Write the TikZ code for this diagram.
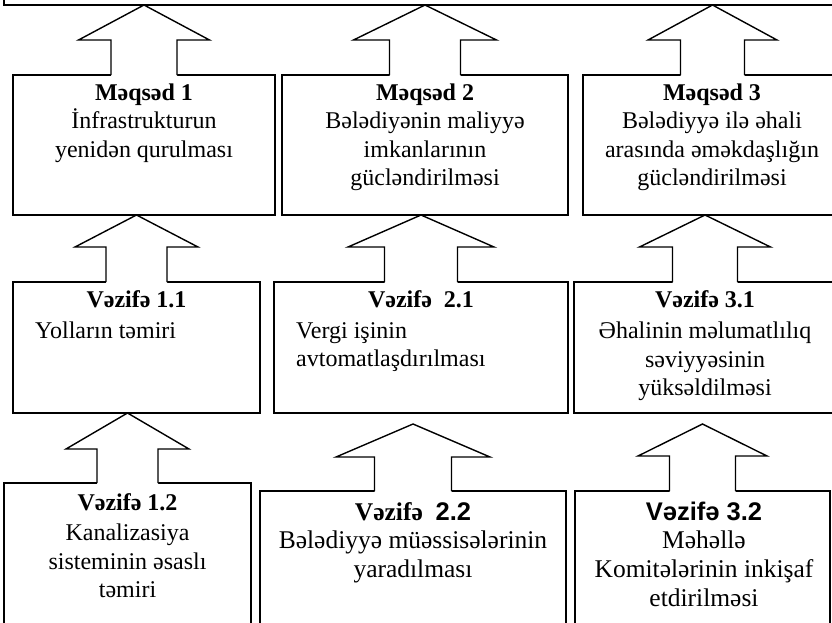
\documentclass[tikz,border=0pt]{standalone}
\usepackage{fontspec}
\setmainfont{Liberation Serif}
\newfontfamily\sansbold{Liberation Sans}
\usetikzlibrary{calc}
\tikzset{
  boxst/.style={draw, line width=1.4pt, rectangle, inner sep=0pt, outer sep=0pt, anchor=north west},
  txt/.style={inner sep=0pt, anchor=base, font=\fontsize{24}{28.5}\selectfont},
  txtbig/.style={txt, font=\fontsize{25.5}{28.8}\selectfont},
  txtl/.style={txt, anchor=base west},
  arrowline/.style={line width=1.4pt, line join=miter},
}
\newcommand\boxat[5]{\node[boxst, minimum width=#4pt, minimum height=#5pt] (#1) at (#2,#3) {};}
% lower box, upper box, tip gap, head length, head half width, shaft half width
\newcommand\blockarr[6]{%
  \coordinate (tip-#1) at ($(#1.north |- #2.south)+(0,#3)$);
  \fill[white] ($(#1.north)+(-#6,1)$) -- ($(tip-#1)+(-#6,#4)$) -- ($(tip-#1)+(-#5,#4)$) -- (tip-#1)
     -- ($(tip-#1)+(#5,#4)$) -- ($(tip-#1)+(#6,#4)$) -- ($(#1.north)+(#6,1)$) -- cycle;
  \draw[arrowline] ($(#1.north)+(-#6,0)$) -- ($(tip-#1)+(-#6,#4)$) -- ($(tip-#1)+(-#5,#4)$) -- (tip-#1)
     -- ($(tip-#1)+(#5,#4)$) -- ($(tip-#1)+(#6,#4)$) -- ($(#1.north)+(#6,0)$);
}
\begin{document}
\begin{tikzpicture}[x=1pt,y=-1pt]
\useasboundingbox (0,0) rectangle (832,622);
\clip (0,0) rectangle (832,622);
% top box
\node[boxst, anchor=south west, minimum width=900pt, minimum height=60pt] (top) at (4,5) {};
% row 1
\boxat{m1}{13}{75}{262}{140}
\boxat{m2}{282}{75}{286}{140}
\boxat{m3}{583}{75}{259}{140}
% row 2
\boxat{v11}{13}{282}{247}{131}
\boxat{v21}{274}{282}{294}{131}
\boxat{v31}{574}{282}{262}{131}
% row 3
\boxat{v12}{4}{483}{247}{170}
\boxat{v22}{260}{491}{306}{170}
\boxat{v32}{575}{491}{255}{170}
% arrows
\blockarr{m1}{top}{0}{35}{65.5}{33}
\blockarr{m2}{top}{0}{35}{71.5}{35.5}
\blockarr{m3}{top}{0}{35}{64.5}{32}
\blockarr{v11}{m1}{0}{32}{61.5}{30.5}
\blockarr{v21}{m2}{0}{32}{73}{36.5}
\blockarr{v31}{m3}{0}{32}{65.5}{32.5}
\blockarr{v12}{v11}{0}{36}{61.5}{30.5}
\blockarr{v22}{v21}{11}{33}{77}{38.5}
\blockarr{v32}{v31}{11}{32}{64.5}{33}
% texts
\node[txt] (tm1) at (144,100) {\parbox[t]{255pt}{\centering{\bfseries Məqsəd 1}\\İnfrastrukturun\\yenidən qurulması}};
\node[txt] (tm2) at (425,100) {\parbox[t]{282pt}{\centering{\bfseries Məqsəd 2}\\Bələdiyənin maliyyə\\imkanlarının\\gücləndirilməsi}};
\node[txt] (tm3) at (712,100) {\parbox[t]{255pt}{\centering{\bfseries Məqsəd 3}\\Bələdiyyə ilə əhali\\arasında əməkdaşlığın\\gücləndirilməsi}};
\node[txt] (tv11) at (136.5,307) {\bfseries Vəzifə 1.1};
\node[txtl] (bv11) at (35,338) {Yolların təmiri};
\node[txt] (tv21) at (421,307) {\bfseries Vəzifə~ 2.1};
\node[txtl] (bv21) at (296,338) {\parbox[t]{270pt}{\raggedright Vergi işinin\\avtomatlaşdırılması}};
\node[txt] (tv31) at (705,307) {\parbox[t]{258pt}{\centering{\bfseries Vəzifə 3.1}\\[3pt]Əhalinin məlumatlılıq\\səviyyəsinin\\yüksəldilməsi}};
\node[txt] (tv12) at (127.5,510) {\parbox[t]{245pt}{\centering{\bfseries Vəzifə 1.2}\\[2pt]Kanalizasiya\\sisteminin əsaslı\\təmiri}};
\node[txtbig] (tv22) at (413,520) {\parbox[t]{304pt}{\centering{\bfseries Vəzifə~ {\sansbold 2.2}}\\Bələdiyyə müəssisələrinin\\yaradılması}};
\node[txtbig] (tv32) at (704,520) {\parbox[t]{255pt}{\centering{\sansbold\bfseries Vəzifə 3.2}\\Məhəllə\\Komitələrinin inkişaf\\etdirilməsi}};
\end{tikzpicture}
\end{document}
